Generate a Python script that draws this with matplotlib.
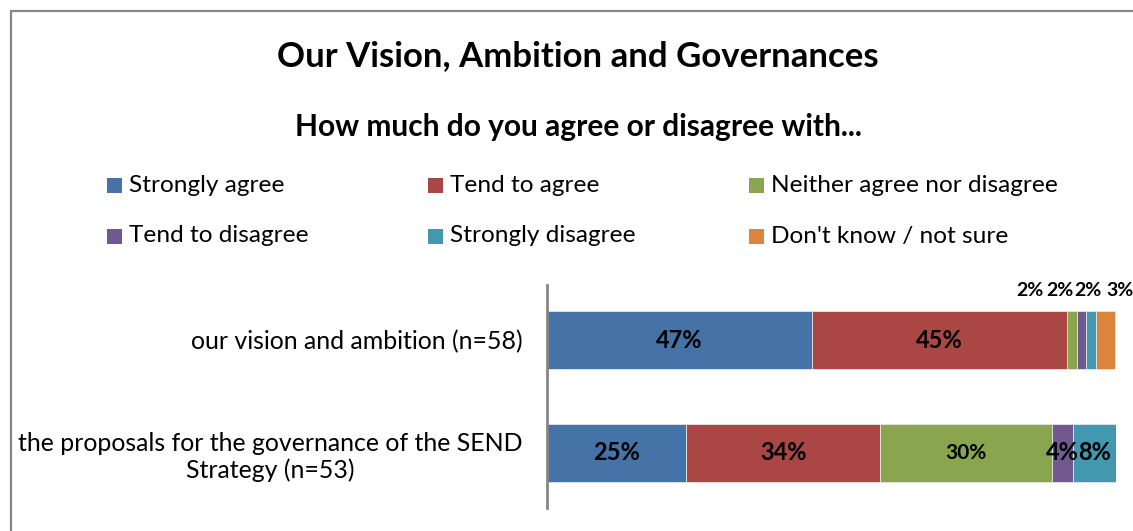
import matplotlib
matplotlib.use("Agg")
import matplotlib.pyplot as plt
from matplotlib.patches import Rectangle
import numpy as np

plt.rcParams['font.family'] = ['Lato', 'DejaVu Sans']

categories = ["our vision and ambition (n=58)",
              "the proposals for the governance of the SEND\nStrategy (n=53)"]
series = ["Strongly agree", "Tend to agree", "Neither agree nor disagree",
          "Tend to disagree", "Strongly disagree", "Don't know / not sure"]
values = {
    "Strongly agree":             [46.6, 24.5],
    "Tend to agree":              [44.8, 34.0],
    "Neither agree nor disagree": [1.7, 30.2],
    "Tend to disagree":           [1.7, 3.8],
    "Strongly disagree":          [1.7, 7.5],
    "Don't know / not sure":      [3.4, 0.0],
}
labels = {
    "Strongly agree":             ["47%", "25%"],
    "Tend to agree":              ["45%", "34%"],
    "Neither agree nor disagree": ["2%", "30%"],
    "Tend to disagree":           ["2%", "4%"],
    "Strongly disagree":          ["2%", "8%"],
    "Don't know / not sure":      ["3%", ""],
}
colors = ["#4572A7", "#AA4643", "#89A54E", "#71588F", "#4198AF", "#DB843D"]

W, H = 1133, 531
fig = plt.figure(figsize=(W / 100, H / 100), dpi=100)
fig.patch.set_facecolor("white")

# outer frame
fig.patches.append(Rectangle((11 / W, -0.1), 1.2, 1 - 11 / H + 0.1,
                             transform=fig.transFigure, fill=False,
                             edgecolor="#868686", linewidth=1.6))

ax = fig.add_axes([547 / W, 1 - 508 / H, (1116 - 547) / W, (508 - 285) / H])
y = np.arange(len(categories))
left = np.zeros(len(categories))
bar_h = 0.51
# offsets (pixels) for the small labels above the first bar
small_off = {"Neither agree nor disagree": -42, "Tend to disagree": -22,
             "Strongly disagree": -3, "Don't know / not sure": 14}
for s, c in zip(series, colors):
    v = np.array(values[s])
    ax.barh(y, v, left=left, height=bar_h, color=c, edgecolor="#e6e6e6",
            linewidth=0.6)
    for i in range(len(categories)):
        lab = labels[s][i]
        if not lab:
            continue
        cx = left[i] + v[i] / 2
        if i == 0 and s in small_off:
            ax.annotate(lab, (cx, y[i] - bar_h / 2), xytext=(small_off[s], 21),
                        textcoords="offset pixels", ha="center", va="center",
                        fontsize=14, fontweight="bold", color="black",
                        annotation_clip=False)
        else:
            fs = 15 if lab == "30%" else 17
            ax.text(cx, y[i], lab, ha="center", va="center", fontsize=fs,
                    fontweight="bold", color="black")
    left += v

ax.set_xlim(0, 100)
ax.set_ylim(1.487, -0.487)
ax.set_yticks(y)
ax.set_yticklabels(categories, fontsize=17.9, color="black",
                   multialignment="center", linespacing=1.2)
ax.tick_params(axis="y", length=0, pad=17.5)
ax.set_xticks([])
for sp in ["top", "right", "bottom"]:
    ax.spines[sp].set_visible(False)
ax.spines["left"].set_color("#868686")
ax.spines["left"].set_linewidth(2)

fig.text(578 / W, 1 - 56 / H, "Our Vision, Ambition and Governances",
         ha="center", va="center", fontsize=25, fontweight="bold", color="black")
fig.text(578 / W, 1 - 127 / H, "How much do you agree or disagree with...",
         ha="center", va="center", fontsize=21.5, fontweight="bold", color="black")

# legend, 3 columns x 2 rows
col_x = [107, 428, 749]
row_y = [186, 236]
for k, (s, c) in enumerate(zip(series, colors)):
    cx = col_x[k % 3]
    cy = row_y[k // 3]
    fig.patches.append(Rectangle((cx / W, 1 - (cy + 7.5) / H), 15 / W, 15 / H,
                                 transform=fig.transFigure, facecolor=c,
                                 edgecolor="none"))
    fig.text((cx + 22) / W, 1 - cy / H, s, ha="left", va="center",
             fontsize=17.6, color="black")

fig.savefig("out.png", dpi=100, facecolor="white")
